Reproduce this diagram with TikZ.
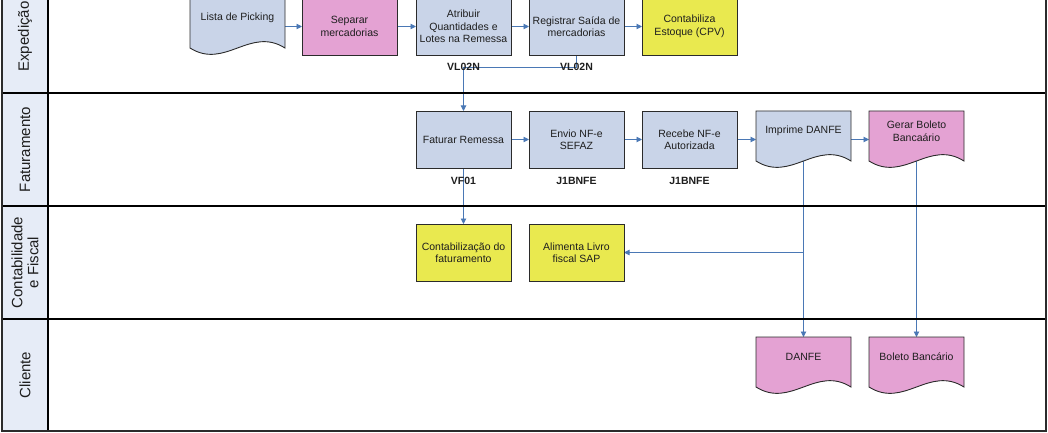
\documentclass[tikz,border=0pt]{standalone}
\usepackage{fontspec}
\setmainfont{Liberation Sans}
\usetikzlibrary{arrows.meta,calc,backgrounds}
\definecolor{lanecol}{HTML}{E6ECF7}
\definecolor{bluebox}{HTML}{C9D4E8}
\definecolor{pinkbox}{HTML}{E4A2D3}
\definecolor{yellowbox}{HTML}{E9E94F}
\definecolor{flowcol}{HTML}{4A78B5}
\definecolor{boxline}{HTML}{2B2B2B}
\definecolor{textcol}{HTML}{1E1E1E}
\newcommand\docpath[2]{\path[draw=boxline, line width=0.9pt, fill=#2]
  (#1.north west) -- (#1.north east) -- ($(#1.north east)+(0,50)$)
  .. controls ($(#1.north west)+(60,28)$) and ($(#1.north west)+(35,72)$) ..
  ($(#1.north west)+(0,50)$) -- cycle;}
\begin{document}
\begin{tikzpicture}[x=1pt,y=-1pt,
  boxfont/.style={font=\fontsize{10.5}{12.5}\selectfont, text=textcol},
  box/.style={boxfont, draw=boxline, line width=0.9pt, minimum width=95pt,
    minimum height=57pt, inner sep=1pt, outer sep=0pt, align=center},
  docarea/.style={minimum width=95pt, minimum height=57pt, inner sep=0pt, outer sep=0pt},
  doctext/.style={boxfont, align=center, inner sep=0pt},
  code/.style={font=\bfseries\fontsize{10.5}{12.5}\selectfont, text=textcol, inner sep=0pt},
  link/.style={draw=flowcol, line width=0.9pt},
  flow/.style={link, -{Triangle[length=5.5pt,width=5.5pt]}},
  lanelabel/.style={rotate=90, align=center, font=\fontsize{15}{16}\selectfont, text=textcol},
  frame/.style={draw=boxline, line width=1.4pt},
  sep/.style={draw=black, line width=1.2pt}]
\clip (0,0) rectangle (1048,433);
% lanes
\fill[lanecol] (2,-20) rectangle (48,431);
\draw[sep] (2,93) -- (1046,93);
\draw[sep] (2,206) -- (1046,206);
\draw[sep] (2,319) -- (1046,319);
\draw[sep] (48,-20) -- (48,431);
\draw[frame] (2,-20) rectangle (1046,431);
\node[lanelabel] (l1) at (25,36.5) {Expedição};
\node[lanelabel] (l2) at (25,149.5) {Faturamento};
\node[lanelabel] (l3) at (25,262.5) {Contabilidade\\e Fiscal};
\node[lanelabel] (l4) at (25,375) {Cliente};
% lane 1
\node[docarea] (lista) at (237.5,26.5) {};
\docpath{lista}{bluebox}
\node[doctext] (lista-t) at ($(lista.north)+(0,20)$) {Lista de Picking};
\node[box, fill=pinkbox] (separar) at (349.5,26.5) {Separar\\mercadorias};
\node[box, fill=bluebox] (atribuir) at (463.5,26.5) {Atribuir\\Quantidades e\\Lotes na Remessa};
\node[box, fill=bluebox] (registrar) at (576.5,26.5) {Registrar Saída de\\mercadorias};
\node[box, fill=yellowbox] (contabiliza) at (689.5,26.5) {Contabiliza\\Estoque (CPV)};
\node[code] (c1) at (463.5,67) {VL02N};
\node[code] (c2) at (576.5,67) {VL02N};
% lane 2
\node[box, fill=bluebox] (faturar) at (463.5,139.5) {Faturar Remessa};
\node[box, fill=bluebox] (envio) at (576.5,139.5) {Envio NF-e\\SEFAZ};
\node[box, fill=bluebox] (recebe) at (689.5,139.5) {Recebe NF-e\\Autorizada};
\node[docarea] (imprime) at (803.5,139.5) {};
\docpath{imprime}{bluebox}
\node[doctext] (imprime-t) at ($(imprime.north)+(0,20)$) {Imprime DANFE};
\node[docarea] (gerar) at (916.5,139.5) {};
\docpath{gerar}{pinkbox}
\node[doctext] (gerar-t) at ($(gerar.north)+(0,20)$) {Gerar Boleto\\Bancaário};
\node[code] (c3) at (463.5,181) {VF01};
\node[code] (c4) at (576.5,181) {J1BNFE};
\node[code] (c5) at (689.5,181) {J1BNFE};
% lane 3
\node[box, fill=yellowbox] (contab) at (463.5,252.5) {Contabilização do\\faturamento};
\node[box, fill=yellowbox] (alimenta) at (576.5,252.5) {Alimenta Livro\\fiscal SAP};
% lane 4
\node[docarea] (danfe) at (803.5,365.5) {};
\docpath{danfe}{pinkbox}
\node[doctext] (danfe-t) at ($(danfe.north)+(0,20)$) {DANFE};
\node[docarea] (boleto) at (916.5,365.5) {};
\docpath{boleto}{pinkbox}
\node[doctext] (boleto-t) at ($(boleto.north)+(0,20)$) {Boleto Bancário};
% connectors
\coordinate (j1) at (463.5,67);
\begin{scope}[on background layer]
\draw[flow] (lista.east) -- (separar.west);
\draw[flow] (separar.east) -- (atribuir.west);
\draw[flow] (atribuir.east) -- (registrar.west);
\draw[flow] (registrar.east) -- (contabiliza.west);
\draw[flow] (registrar.south) |- (j1) -- (faturar.north);
\draw[flow] (faturar.east) -- (envio.west);
\draw[flow] (envio.east) -- (recebe.west);
\draw[flow] (recebe.east) -- (imprime.west);
\draw[flow] (imprime.east) -- (gerar.west);
\draw[flow] (faturar.south) -- (contab.north);
\draw[flow] (imprime.center) -- (danfe.north);
\draw[flow] (imprime.center |- alimenta.east) -- (alimenta.east);
\draw[flow] (gerar.center) -- (boleto.north);
\end{scope}
\end{tikzpicture}
\end{document}
